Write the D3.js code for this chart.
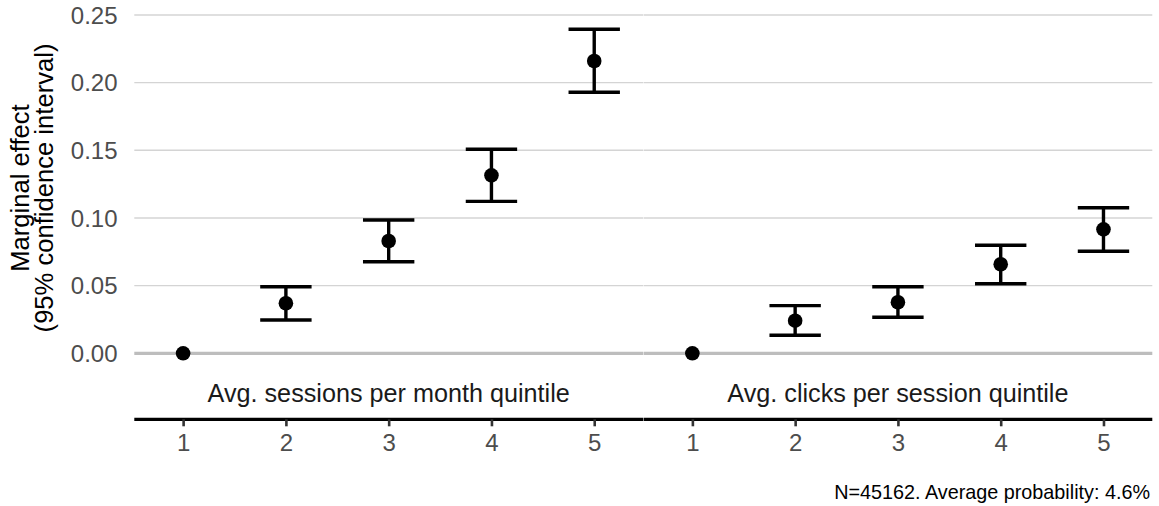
<!DOCTYPE html>
<html>
<head>
<meta charset="utf-8">
<script src="https://cdn.jsdelivr.net/npm/d3@7"></script>
<style>
  body { margin: 0; background: #fff; }
  svg text { font-family: "Liberation Sans", Arial, Helvetica, sans-serif; }
</style>
</head>
<body>
<div id="chart"></div>
<script>
// facets and quintiles
var panels = ["Avg. sessions per month quintile", "Avg. clicks per session quintile"];
var quintiles = [1, 2, 3, 4, 5];
var yTicks = [0, 0.05, 0.10, 0.15, 0.20, 0.25];

// marginal effects with 95% CI (quintile 1 is the reference category)
var sessionsEst = [0, 0.037, 0.083, 0.1315, 0.216];
var sessionsLow = [null, 0.0246, 0.0677, 0.1123, 0.1929];
var sessionsHigh = [null, 0.0492, 0.0985, 0.1508, 0.2395];

var clicksEst = [0, 0.0241, 0.0377, 0.0658, 0.0916];
var clicksLow = [null, 0.0133, 0.0266, 0.0514, 0.0754];
var clicksHigh = [null, 0.0352, 0.0492, 0.0798, 0.1076];

var caption = "N=45162. Average probability: 4.6%";

var width = 1159, height = 506;
var margin = {left: 134.3, right: 6.7, top: 15, zero: 353.3};

var svg = d3.select("#chart").append("svg")
    .attr("width", width)
    .attr("height", height);

var y = d3.scaleLinear()
    .domain([0, 0.25])
    .range([margin.zero, margin.top]);

var panelScale = d3.scaleBand()
    .domain(panels)
    .range([margin.left, width - margin.right])
    .paddingInner(0.001);

var x = d3.scalePoint()
    .domain(quintiles)
    .range([0, panelScale.bandwidth()])
    .padding(0.475);

// y tick labels
svg.append("g").selectAll("text")
    .data(yTicks)
    .enter().append("text")
    .attr("x", 117.5)
    .attr("y", function(d) { return y(d); })
    .attr("dy", "0.36em")
    .attr("text-anchor", "end")
    .style("font-size", "24px")
    .attr("fill", "#4d4d4d")
    .text(function(d) { return d3.format(".2f")(d); });

// y axis title
var yTitle = svg.append("text")
    .attr("transform", "translate(0,188) rotate(-90)")
    .attr("text-anchor", "middle")
    .style("font-size", "25.6px")
    .attr("fill", "#000");
yTitle.append("tspan").attr("x", 0).attr("y", 29).text("Marginal effect");
yTitle.append("tspan").attr("x", 0).attr("y", 53).text("(95% confidence interval)");

var series = [
    {est: sessionsEst, low: sessionsLow, high: sessionsHigh},
    {est: clicksEst, low: clicksLow, high: clicksHigh}
];

panels.forEach(function(p, i) {
    var g = svg.append("g")
        .attr("transform", "translate(" + panelScale(p) + ",0)");
    var w = panelScale.bandwidth();

    // grid
    g.selectAll(".grid")
        .data(yTicks.filter(function(d) { return d > 0; }))
        .enter().append("line")
        .attr("x1", 0).attr("x2", w)
        .attr("y1", function(d) { return y(d); })
        .attr("y2", function(d) { return y(d); })
        .attr("stroke", "#d4d4d4")
        .attr("stroke-width", 1.4);

    // zero line
    g.append("line")
        .attr("x1", 0).attr("x2", w)
        .attr("y1", y(0)).attr("y2", y(0))
        .attr("stroke", "#bdbdbd")
        .attr("stroke-width", 3.2);

    var s = series[i];
    var rows = quintiles.map(function(q, k) {
        return {q: q, est: s.est[k], low: s.low[k], high: s.high[k]};
    });
    var bars = rows.filter(function(d) { return d.low !== null; });
    var cap = x.step() * 0.25;

    g.selectAll(".stem")
        .data(bars)
        .enter().append("line")
        .attr("x1", function(d) { return x(d.q); })
        .attr("x2", function(d) { return x(d.q); })
        .attr("y1", function(d) { return y(d.low); })
        .attr("y2", function(d) { return y(d.high); })
        .attr("stroke", "#000")
        .attr("stroke-width", 3.4);

    ["low", "high"].forEach(function(k) {
        g.selectAll(".cap-" + k)
            .data(bars)
            .enter().append("line")
            .attr("x1", function(d) { return x(d.q) - cap; })
            .attr("x2", function(d) { return x(d.q) + cap; })
            .attr("y1", function(d) { return y(d[k]); })
            .attr("y2", function(d) { return y(d[k]); })
            .attr("stroke", "#000")
            .attr("stroke-width", 3.4);
    });

    g.selectAll(".pt")
        .data(rows)
        .enter().append("circle")
        .attr("cx", function(d) { return x(d.q); })
        .attr("cy", function(d) { return y(d.est); })
        .attr("r", 7.3)
        .attr("fill", "#000");

    // strip label
    g.append("text")
        .attr("x", w / 2)
        .attr("y", 393)
        .attr("dy", "0.36em")
        .attr("text-anchor", "middle")
        .style("font-size", "25.2px")
        .attr("fill", "#1a1a1a")
        .text(p);

    // x axis
    var axis = g.append("g")
        .attr("transform", "translate(0,419.3)")
        .call(d3.axisBottom(x).tickSize(7).tickPadding(8).tickSizeOuter(0));
    axis.select(".domain")
        .attr("d", "M0,0H" + w)
        .attr("stroke", "#000")
        .attr("stroke-width", 3.2);
    axis.selectAll(".tick line")
        .attr("stroke", "#333")
        .attr("stroke-width", 2.6);
    axis.selectAll(".tick text")
        .style("font-size", "24px")
        .style("font-family", "Liberation Sans, Arial, sans-serif")
        .attr("fill", "#4d4d4d");
});

// caption
svg.append("text")
    .attr("x", 1150)
    .attr("y", 492)
    .attr("dy", "0.36em")
    .attr("text-anchor", "end")
    .style("font-size", "19.8px")
    .attr("fill", "#000")
    .text(caption);
</script>
</body>
</html>
